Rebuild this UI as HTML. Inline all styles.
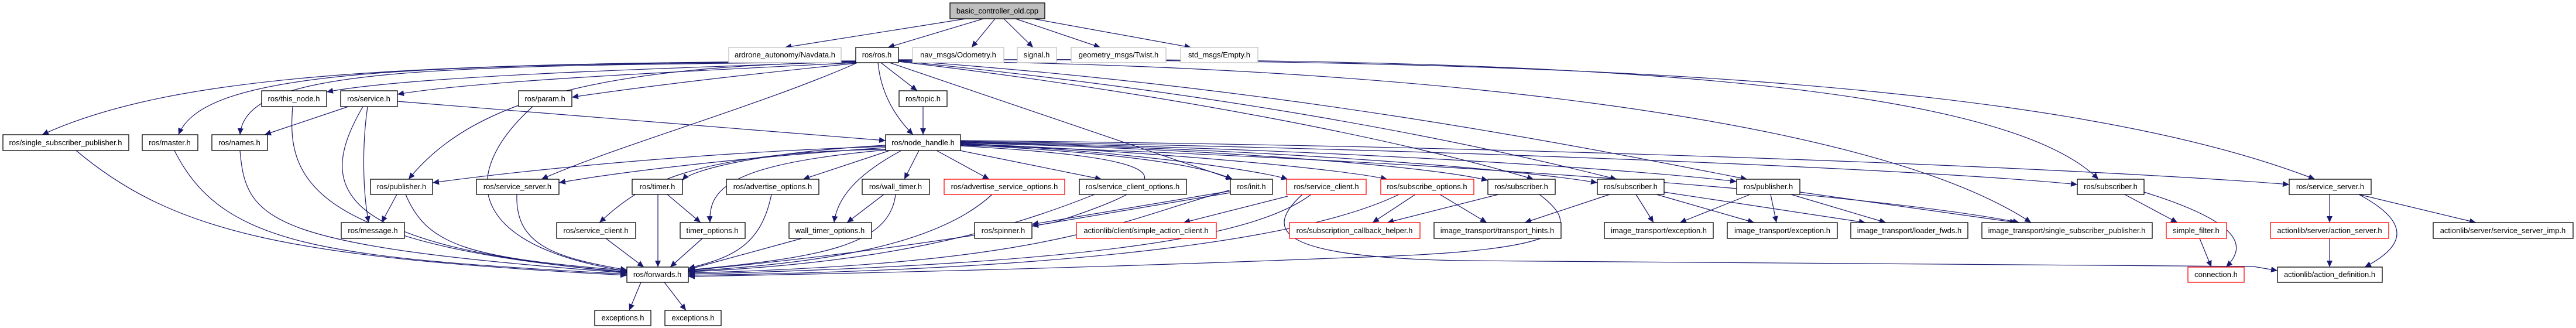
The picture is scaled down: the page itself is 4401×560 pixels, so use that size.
<!DOCTYPE html>
<html><head><meta charset="utf-8"><style>
html,body{margin:0;padding:0;background:#fff;}
svg{display:block;}
text{font-family:"Liberation Sans",sans-serif;font-size:13px;fill:#000;}
.e{fill:none;stroke:#191970;stroke-width:1.2;marker-end:url(#a);}
.n{fill:#fff;stroke:#000;stroke-width:1.3;}
.g{fill:#fff;stroke:#bfbfbf;stroke-width:1.3;}
.r{fill:#fff;stroke:#ff0000;stroke-width:1.3;}
</style></head><body>
<svg width="4401" height="560" viewBox="0 0 4401 560" xmlns="http://www.w3.org/2000/svg">
<defs><marker id="a" markerUnits="userSpaceOnUse" markerWidth="12" markerHeight="10" refX="11" refY="5" orient="auto"><path d="M0,0 L11,5 L0,10 z" fill="#191970"/></marker></defs>
<g>
<!-- root edges -->
<path class="e" d="M1650,32 L1341,81"/>
<path class="e" d="M1680,32 L1517,81"/>
<path class="e" d="M1700,32 L1660,81"/>
<path class="e" d="M1715,32 L1765,81"/>
<path class="e" d="M1735,32 L1880,81"/>
<path class="e" d="M1765,32 L2035,81"/>
<!-- ros.h edges -->
<path class="e" d="M1462,105 C1100,118 700,130 558,157"/>
<path class="e" d="M1462,107 C1100,125 800,140 679,161"/>
<path class="e" d="M1462,108 C1200,135 1050,155 977,166"/>
<path class="e" d="M1505,107 L1567,155"/>
<path class="e" d="M1500,107 C1505,160 1530,200 1560,230"/>
<path class="e" d="M1462,104 C700,108 300,125 72,230"/>
<path class="e" d="M1462,105 C700,110 350,118 305,230"/>
<path class="e" d="M1462,106 C700,112 420,118 410,230"/>
<path class="e" d="M1462,106 C1000,112 800,180 698,306"/>
<path class="e" d="M1465,107 C1300,180 1050,250 925,306"/>
<path class="e" d="M1520,107 L2106,306"/>
<path class="e" d="M1535,105 C2000,160 2400,240 2620,306"/>
<path class="e" d="M1535,104 C2100,160 2500,240 2762,306"/>
<path class="e" d="M1535,103 C2200,150 2700,250 2985,306"/>
<path class="e" d="M1535,103 C2500,95 3400,120 3585,306"/>
<path class="e" d="M1535,102 C2600,100 3500,130 3955,306"/>
<path class="e" d="M1535,104 C2400,110 3200,200 3470,380"/>
<!-- node_handle edges -->
<path class="e" d="M1513,250 C1200,260 900,290 739,312"/>
<path class="e" d="M1513,252 C1250,270 1050,295 955,312"/>
<path class="e" d="M1513,248 C1300,260 1180,290 1166,308"/>
<path class="e" d="M1520,257 L1372,306"/>
<path class="e" d="M1570,257 L1545,306"/>
<path class="e" d="M1600,257 L1690,306"/>
<path class="e" d="M1640,257 L1882,306"/>
<path class="e" d="M1641,247 C1900,260 2050,280 2105,306"/>
<path class="e" d="M1641,246 C1900,255 2150,290 2200,306"/>
<path class="e" d="M1641,245 C2000,260 2300,290 2370,306"/>
<path class="e" d="M1641,244 C2100,255 2450,285 2542,308"/>
<path class="e" d="M1641,243 C2200,255 2600,290 2729,312"/>
<path class="e" d="M1641,242 C2300,255 2800,290 2967,310"/>
<path class="e" d="M1641,241 C2500,255 3300,290 3549,315"/>
<path class="e" d="M1641,240 C2700,250 3600,290 3911,315"/>
<path class="e" d="M1641,248 C2400,270 3200,330 3450,380"/>
<path class="e" d="M1513,255 C1150,260 1080,330 1024,380"/>
<path class="e" d="M1513,256 C1250,280 1210,320 1213,380"/>
<path class="e" d="M1540,257 C1460,300 1430,340 1425,380"/>
<path class="e" d="M1641,249 C2000,270 2050,300 1800,380 C1500,430 1300,450 1176,462"/>
<!-- to forwards -->
<path class="e" d="M130,257 C300,400 500,440 1071,470"/>
<path class="e" d="M298,257 C380,420 550,440 1071,468"/>
<path class="e" d="M410,257 C420,380 460,420 1071,466"/>
<path class="e" d="M500,182 C490,300 520,420 1071,464"/>
<path class="e" d="M620,182 C540,320 560,420 1071,465"/>
<path class="e" d="M910,182 C780,300 800,420 1071,463"/>
<path class="e" d="M693,332 C730,420 800,440 1071,462"/>
<path class="e" d="M883,332 C880,420 950,440 1071,461"/>
<path class="e" d="M1035,407 L1100,456"/>
<path class="e" d="M1124,332 L1124,456"/>
<path class="e" d="M1200,407 L1145,456"/>
<path class="e" d="M1318,332 C1300,420 1250,440 1176,458"/>
<path class="e" d="M1370,407 L1176,460"/>
<path class="e" d="M1530,332 C1520,420 1400,440 1176,461"/>
<path class="e" d="M1695,332 C1600,420 1400,450 1176,463"/>
<path class="e" d="M1870,332 C1700,400 1500,450 1176,464"/>
<path class="e" d="M2100,325 C1900,380 1800,450 1176,466"/>
<path class="e" d="M2240,332 C2150,400 1900,450 1176,468"/>
<path class="e" d="M2390,332 C2250,400 1900,460 1176,470"/>
<path class="e" d="M2630,332 C2720,400 2650,430 2300,440 C1800,460 1400,468 1176,472"/>
<!-- others -->
<path class="e" d="M595,182 L452,230"/>
<path class="e" d="M628,182 C618,250 620,330 630,380"/>
<path class="e" d="M679,173 L1513,240"/>
<path class="e" d="M678,332 L652,380"/>
<path class="e" d="M1140,332 L1197,380"/>
<path class="e" d="M1510,332 L1447,380"/>
<path class="e" d="M1577,182 L1577,230"/>
<path class="e" d="M2102,326 L1763,383"/>
<path class="e" d="M2102,329 L1763,386"/>
<path class="e" d="M2200,335 L2022,380"/>
<path class="e" d="M2418,332 L2345,380"/>
<path class="e" d="M2460,332 L2540,380"/>
<path class="e" d="M2560,332 L2370,380"/>
<path class="e" d="M2750,332 L2605,380"/>
<path class="e" d="M2795,332 L2825,380"/>
<path class="e" d="M2830,332 L2997,380"/>
<path class="e" d="M2843,328 L3187,380"/>
<path class="e" d="M2990,332 L2870,380"/>
<path class="e" d="M3025,332 L3035,380"/>
<path class="e" d="M3060,332 L3222,380"/>
<path class="e" d="M3075,328 L3445,380"/>
<path class="e" d="M3630,332 L3720,380"/>
<path class="e" d="M3663,328 C3830,380 3840,420 3803,456"/>
<path class="e" d="M3758,407 L3778,456"/>
<path class="e" d="M3980,332 L3980,380"/>
<path class="e" d="M4030,332 L4230,380"/>
<path class="e" d="M4030,332 C4120,380 4110,420 4040,456"/>
<path class="e" d="M3980,407 L3980,456"/>
<path class="e" d="M1095,482 L1075,530"/>
<path class="e" d="M1135,482 L1172,530"/>
<path class="e" d="M2225,332 C2150,400 2200,440 2500,445 L3850,455 L3891,462"/>
</g>
<g>
<rect x="1623" y="5" width="162" height="27" fill="#bfbfbf" stroke="#000" stroke-width="1.3"/><text x="1704" y="23" text-anchor="middle">basic_controller_old.cpp</text>
<rect class="g" x="1245" y="81" width="192" height="26"/><text x="1341" y="98" text-anchor="middle">ardrone_autonomy/Navdata.h</text>
<rect class="n" x="1462" y="81" width="73" height="26"/><text x="1498" y="98" text-anchor="middle">ros/ros.h</text>
<rect class="g" x="1559" y="81" width="156" height="26"/><text x="1637" y="98" text-anchor="middle">nav_msgs/Odometry.h</text>
<rect class="g" x="1738" y="81" width="67" height="26"/><text x="1771" y="98" text-anchor="middle">signal.h</text>
<rect class="g" x="1830" y="81" width="162" height="26"/><text x="1911" y="98" text-anchor="middle">geometry_msgs/Twist.h</text>
<rect class="g" x="2017" y="81" width="132" height="26"/><text x="2083" y="98" text-anchor="middle">std_msgs/Empty.h</text>

<rect class="n" x="447" y="155" width="111" height="27"/><text x="502" y="173" text-anchor="middle">ros/this_node.h</text>
<rect class="n" x="582" y="155" width="97" height="27"/><text x="630" y="173" text-anchor="middle">ros/service.h</text>
<rect class="n" x="886" y="155" width="91" height="27"/><text x="931" y="173" text-anchor="middle">ros/param.h</text>
<rect class="n" x="1536" y="155" width="82" height="27"/><text x="1577" y="173" text-anchor="middle">ros/topic.h</text>

<rect class="n" x="5" y="230" width="215" height="27"/><text x="112" y="248" text-anchor="middle">ros/single_subscriber_publisher.h</text>
<rect class="n" x="243" y="230" width="95" height="27"/><text x="290" y="248" text-anchor="middle">ros/master.h</text>
<rect class="n" x="362" y="230" width="95" height="27"/><text x="409" y="248" text-anchor="middle">ros/names.h</text>
<rect class="n" x="1513" y="230" width="128" height="27"/><text x="1577" y="248" text-anchor="middle">ros/node_handle.h</text>

<rect class="n" x="633" y="306" width="106" height="26"/><text x="686" y="323" text-anchor="middle">ros/publisher.h</text>
<rect class="n" x="814" y="306" width="141" height="26"/><text x="884" y="323" text-anchor="middle">ros/service_server.h</text>
<rect class="n" x="1080" y="306" width="86" height="26"/><text x="1123" y="323" text-anchor="middle">ros/timer.h</text>
<rect class="n" x="1241" y="306" width="158" height="26"/><text x="1320" y="323" text-anchor="middle">ros/advertise_options.h</text>
<rect class="n" x="1473" y="306" width="115" height="26"/><text x="1530" y="323" text-anchor="middle">ros/wall_timer.h</text>
<rect class="r" x="1613" y="306" width="206" height="26"/><text x="1716" y="323" text-anchor="middle">ros/advertise_service_options.h</text>
<rect class="n" x="1844" y="306" width="183" height="26"/><text x="1935" y="323" text-anchor="middle">ros/service_client_options.h</text>
<rect class="n" x="2102" y="306" width="72" height="26"/><text x="2138" y="323" text-anchor="middle">ros/init.h</text>
<rect class="r" x="2198" y="306" width="136" height="26"/><text x="2266" y="323" text-anchor="middle">ros/service_client.h</text>
<rect class="r" x="2359" y="306" width="159" height="26"/><text x="2438" y="323" text-anchor="middle">ros/subscribe_options.h</text>
<rect class="n" x="2542" y="306" width="115" height="26"/><text x="2599" y="323" text-anchor="middle">ros/subscriber.h</text>
<rect class="n" x="2729" y="306" width="114" height="26"/><text x="2786" y="323" text-anchor="middle">ros/subscriber.h</text>
<rect class="n" x="2967" y="306" width="108" height="26"/><text x="3021" y="323" text-anchor="middle">ros/publisher.h</text>
<rect class="n" x="3549" y="306" width="114" height="26"/><text x="3606" y="323" text-anchor="middle">ros/subscriber.h</text>
<rect class="n" x="3911" y="306" width="140" height="26"/><text x="3981" y="323" text-anchor="middle">ros/service_server.h</text>

<rect class="n" x="583" y="380" width="108" height="27"/><text x="637" y="398" text-anchor="middle">ros/message.h</text>
<rect class="n" x="951" y="380" width="135" height="27"/><text x="1018" y="398" text-anchor="middle">ros/service_client.h</text>
<rect class="n" x="1162" y="380" width="111" height="27"/><text x="1217" y="398" text-anchor="middle">timer_options.h</text>
<rect class="n" x="1348" y="380" width="141" height="27"/><text x="1418" y="398" text-anchor="middle">wall_timer_options.h</text>
<rect class="n" x="1665" y="380" width="98" height="27"/><text x="1714" y="398" text-anchor="middle">ros/spinner.h</text>
<rect class="r" x="1839" y="380" width="239" height="27"/><text x="1958" y="398" text-anchor="middle">actionlib/client/simple_action_client.h</text>
<rect class="r" x="2203" y="380" width="223" height="27"/><text x="2314" y="398" text-anchor="middle">ros/subscription_callback_helper.h</text>
<rect class="n" x="2450" y="380" width="217" height="27"/><text x="2558" y="398" text-anchor="middle">image_transport/transport_hints.h</text>
<rect class="n" x="2741" y="380" width="186" height="27"/><text x="2834" y="398" text-anchor="middle">image_transport/exception.h</text>
<rect class="n" x="2951" y="380" width="188" height="27"/><text x="3045" y="398" text-anchor="middle">image_transport/exception.h</text>
<rect class="n" x="3162" y="380" width="200" height="27"/><text x="3262" y="398" text-anchor="middle">image_transport/loader_fwds.h</text>
<rect class="n" x="3386" y="380" width="291" height="27"/><text x="3531" y="398" text-anchor="middle">image_transport/single_subscriber_publisher.h</text>
<rect class="r" x="3701" y="380" width="103" height="27"/><text x="3752" y="398" text-anchor="middle">simple_filter.h</text>
<rect class="r" x="3879" y="380" width="202" height="27"/><text x="3980" y="398" text-anchor="middle">actionlib/server/action_server.h</text>
<rect class="n" x="4157" y="380" width="239" height="27"/><text x="4276" y="398" text-anchor="middle">actionlib/server/service_server_imp.h</text>

<rect class="n" x="1071" y="456" width="105" height="26"/><text x="1123" y="473" text-anchor="middle">ros/forwards.h</text>
<rect class="r" x="3738" y="456" width="96" height="26"/><text x="3786" y="473" text-anchor="middle">connection.h</text>
<rect class="n" x="3891" y="456" width="179" height="26"/><text x="3980" y="473" text-anchor="middle">actionlib/action_definition.h</text>

<rect class="n" x="1016" y="530" width="96" height="26"/><text x="1064" y="547" text-anchor="middle">exceptions.h</text>
<rect class="n" x="1136" y="530" width="96" height="26"/><text x="1184" y="547" text-anchor="middle">exceptions.h</text>
</g>
</svg>
</body></html>
